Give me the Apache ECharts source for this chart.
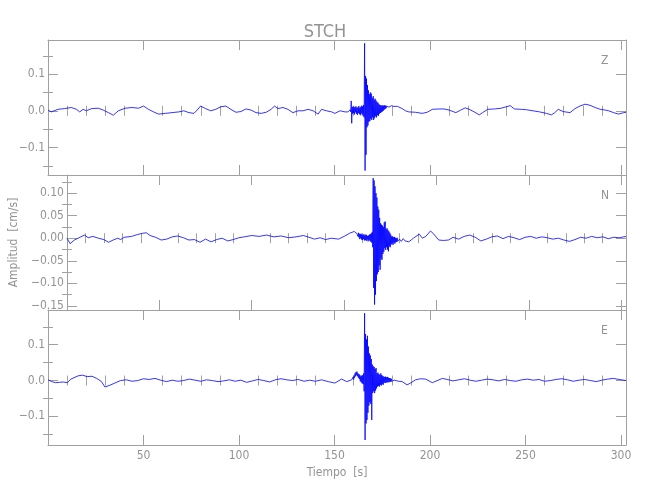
<!DOCTYPE html>
<html>
<head>
<meta charset="utf-8">
<script src="https://cdn.jsdelivr.net/npm/echarts@6/dist/echarts.min.js"></script>
<style>html,body{margin:0;padding:0;background:#fff}#c{width:650px;height:500px}</style>
</head>
<body>
<div id="c"></div>
<script>
// ---------------- DATA ----------------
var stationName = "STCH";
var componentNames = ["Z", "N", "E"];
var xMax = 302.6;
var xMajorTicks = [0, 50, 100, 150, 200, 250, 300];
var xTickLabels = [50, 100, 150, 200, 250, 300];
var xMinorTicks = [10,20,30,40,60,70,80,90,110,120,130,140,160,170,180,190,210,220,230,240,260,270,280,290];

// Z component: slow background (time [s], amplitude [cm/s])
var timeZ = [0,1.7,5.2,8.7,12.2,14.9,16.6,18.4,20.1,22.8,26.3,28.9,31.6,34.2,36.8,40.4,43.9,47.4,50.0,52.6,55.3,57.9,61.4,64.9,68.5,71.1,73.8,76.4,78.1,79.9,82.5,85.2,87.8,90.5,93.1,95.7,98.4,101.0,103.6,106.3,108.9,111.6,114.2,116.8,118.6,120.3,123.0,125.6,128.2,130.9,133.5,136.2,138.8,141.4,143.2,145.8,148.5,150.2,152.9,155.5,
  183.0,185.4,187.2,188.9,192.4,195.9,198.5,201.2,204.7,207.3,210.0,213.5,216.1,218.4,220.5,223.1,225.8,227.5,230.2,233.7,237.2,239.9,242.0,244.2,247.8,250.4,253.9,257.4,260.9,263.6,265.3,267.1,269.7,273.3,275.9,278.5,281.2,283.8,286.4,289.1,291.7,293.5,296.1,298.7,301.4,302.6];
var ampZ = [0.002,-0.003,0.004,0.006,0.009,0.004,-0.003,0.004,0.000,0.006,0.007,0.002,-0.005,-0.012,0.000,0.007,0.009,0.007,0.013,0.004,-0.003,-0.009,-0.007,-0.005,-0.003,0.000,-0.005,-0.007,0.002,0.013,0.006,0.000,0.004,0.011,0.013,0.004,-0.004,-0.002,0.005,0.002,-0.005,-0.007,-0.004,0.004,0.013,0.006,0.009,0.004,-0.005,0.000,0.000,0.004,0.000,-0.009,0.004,0.000,-0.003,-0.007,0.000,-0.003,
  0.012,0.006,0.000,-0.003,-0.004,-0.007,-0.004,0.004,0.005,0.005,0.002,-0.005,0.002,0.008,0.004,-0.003,-0.011,-0.005,0.004,0.005,0.007,0.011,0.014,0.005,0.004,0.003,0.000,-0.003,-0.007,-0.011,-0.005,0.004,-0.002,-0.005,0.006,0.013,0.018,0.015,0.009,0.004,0.002,0.000,-0.005,-0.009,-0.005,-0.004];
// Z component: main arrival, sampled every burstDt seconds from burstStartZ
var burstDt = 0.25;
var burstStartZ = 157.0;
var burstZ = [-0.003,0.001,-0.004,0.002,-0.002,0.003,-0.003,0.027,-0.034,0.010,-0.008,0.012,-0.006,0.009,-0.010,0.011,-0.004,0.012,-0.008,0.008,-0.011,0.010,-0.006,0.013,-0.009,0.008,-0.012,0.011,-0.007,0.014,-0.010,0.012,-0.014,0.016,-0.018,0.184,-0.163,0.095,-0.120,0.088,-0.045,0.070,-0.040,0.056,-0.030,0.045,-0.028,0.050,-0.022,0.047,-0.025,0.035,-0.018,0.040,-0.025,0.030,-0.020,0.033,-0.015,0.028,-0.018,0.024,-0.012,0.022,-0.014,0.018,-0.008,0.016,-0.006,0.015,-0.004,0.014,-0.002,0.015,0.000,0.014,0.003,0.015,0.005,0.014,0.007,0.013,0.008,0.014,0.009,0.013,0.010,0.014,0.010,0.013,0.011,0.014,0.011,0.014,0.012,0.013,0.012];

// N component
var timeN = [0,1.7,4,7,9.5,11.5,14,17,20,22.5,25,27.5,29,31,35,38,41,43,45,48,51,54,57,60,63,66,69,72,75,78,81,84,87,90,93,96,100,104,108,112,116,120,124,128,131,134,137,140,143,147,150,153,155.5,157,
  180,181,182,183,184,185,186.3,187.5,188.9,190.7,192.4,194.2,196.8,198.6,201.2,203.8,206.5,209,212,215,218,221,224,227,230,233,236,239,242,245,248,251,254,257,260,263,266,269,272,275,278,281,284,287,290,293,296,299,302.6];
var ampN = [0.000,-0.012,-0.004,0.002,0.007,0.001,0.004,0.000,-0.003,-0.009,-0.004,0.000,-0.003,0.002,0.004,0.008,0.011,0.012,0.006,0.002,-0.004,-0.002,0.003,0.005,0.001,-0.004,-0.003,-0.009,-0.002,-0.008,-0.003,0.000,-0.006,-0.003,0.001,0.003,0.006,0.004,0.007,0.003,0.005,0.001,0.003,0.006,0.002,-0.002,0.001,-0.003,0.000,-0.002,0.004,0.011,0.015,0.010,
  -0.002,-0.007,-0.001,-0.006,-0.002,-0.008,-0.004,0.000,0.004,0.009,0.000,0.004,0.016,0.009,-0.004,-0.005,-0.004,0.002,-0.002,0.004,0.007,0.002,-0.006,-0.002,0.003,0.005,-0.001,0.004,0.001,-0.003,0.002,0.004,0.000,0.003,0.001,-0.002,0.000,-0.004,-0.007,-0.003,0.002,0.000,0.004,0.001,0.003,-0.001,0.002,0.001,0.004];
var burstStartN = 157.25;
var burstN = [0.011,0.004,0.012,0.002,0.010,-0.002,0.009,0.000,0.010,-0.003,0.008,-0.004,0.007,-0.002,0.009,-0.005,0.006,-0.004,0.008,-0.006,0.007,-0.003,0.005,-0.007,0.006,-0.004,0.008,-0.006,0.009,-0.008,0.011,-0.010,0.014,-0.020,0.133,-0.110,0.128,-0.147,0.115,-0.125,0.100,-0.095,0.090,-0.080,0.070,-0.075,0.063,-0.060,0.045,-0.070,0.033,-0.045,0.030,-0.048,0.028,-0.035,0.025,-0.030,0.035,-0.022,0.037,-0.026,0.020,-0.020,0.022,-0.025,0.018,-0.029,0.015,-0.018,0.012,-0.020,0.008,-0.014,0.004,-0.012,0.004,-0.015,0.002,-0.010,0.003,-0.012,0.001,-0.009,0.000,-0.008,0.001,-0.007];

// E component
var timeE = [0,2,4,6,8,10,12,15.7,18,20.5,23,25.5,28,29.8,32,35,38,41,44,47,50,53,56,59,62,65,68,71,74,77,80,83,86,89,92,95,98,101,104,107,110,113,116,119,122,125,128,131,134,137,140,143.2,146.7,150.2,153.7,156.4,159.0,
  183.6,185.4,188,189.8,192.4,195.1,197.7,201.2,204.7,206.5,209,212,215,218,221,224,227,230,233,236,239,242,245,248,251,254,257,260,263,266,269,272,275,278,281,284,287,290,293,296,299,302.6];
var ampE = [0.002,-0.003,-0.006,-0.005,-0.004,-0.006,0.004,0.013,0.015,0.011,0.012,0.006,-0.003,-0.018,-0.014,-0.007,0.000,0.002,-0.002,0.000,0.005,0.003,0.006,0.001,-0.003,0.001,-0.002,0.000,0.004,0.001,-0.002,0.002,0.000,-0.003,-0.001,0.002,-0.002,0.001,-0.005,-0.001,0.003,0.000,-0.004,0.002,0.005,0.002,0.000,0.003,-0.002,0.001,-0.002,0.002,-0.003,-0.007,0.004,-0.003,0.002,
  -0.002,-0.003,-0.012,-0.007,0.002,0.005,0.004,-0.006,0.002,0.006,0.003,-0.001,0.002,0.005,0.001,-0.002,0.001,0.004,0.002,-0.001,0.003,0.000,-0.002,0.002,0.004,0.001,0.003,-0.002,0.000,0.003,0.005,0.002,-0.002,0.001,0.003,0.000,-0.003,0.001,0.004,0.006,0.003,0.000];
var burstStartE = 159.25;
var burstE = [0.006,-0.002,0.010,0.003,0.014,0.008,0.020,0.012,0.024,0.015,0.025,0.012,0.020,0.008,0.018,0.004,0.016,-0.002,0.012,-0.005,0.014,-0.008,0.015,-0.010,0.020,-0.030,0.188,-0.166,0.130,-0.120,0.115,-0.110,0.125,-0.090,0.095,-0.070,0.076,-0.060,0.070,-0.065,0.060,-0.110,0.045,-0.035,0.040,-0.030,0.038,-0.035,0.032,-0.028,0.035,-0.022,0.020,-0.017,0.022,-0.015,0.018,-0.017,0.016,-0.012,0.020,-0.014,0.015,-0.010,0.013,-0.012,0.011,-0.006,0.010,-0.007,0.011,-0.005,0.009,-0.006,0.010,-0.004,0.008,-0.005,0.007,-0.003,0.006,-0.004,0.005,-0.002,0.003,-0.003,0.002,-0.002,0.001,-0.002,0.000,-0.002];

// axis ranges and ticks per component
var yRangeZ = [-0.175, 0.193], yMajorZ = [-0.1, 0, 0.1], yMinorZ = [-0.15, -0.05, 0.05, 0.15];
var yRangeN = [-0.159, 0.140], yMajorN = [-0.15, -0.10, -0.05, 0, 0.05, 0.10], yMinorN = [-0.125, -0.075, -0.025, 0.025, 0.075, 0.125];
var yRangeE = [-0.180, 0.197], yMajorE = [-0.1, 0, 0.1], yMinorE = [-0.15, -0.05, 0.05, 0.15];

// ---------------- BUILD ----------------
function merge(times, amps, bStart, burst) {
  var pts = [];
  for (var i = 0; i < times.length; i++) pts.push([times[i], amps[i]]);
  for (var j = 0; j < burst.length; j++) pts.push([+(bStart + j * burstDt).toFixed(3), burst[j]]);
  pts.sort(function (a, b) { return a[0] - b[0]; });
  return pts;
}
var traces = [
  merge(timeZ, ampZ, burstStartZ, burstZ),
  merge(timeN, ampN, burstStartN, burstN),
  merge(timeE, ampE, burstStartE, burstE)
];
var yRanges = [yRangeZ, yRangeN, yRangeE];
var yMajors = [yMajorZ, yMajorN, yMajorE];
var yMinors = [yMinorZ, yMinorN, yMinorE];
var yDecimals = [1, 2, 1];

var FONT = "'Liberation Sans Narrow', 'DejaVu Sans Condensed', sans-serif";
var AX = '#a0a0a0', TX = '#939393';
var gridTops = [40, 175, 310], gridH = 135, gridLeft = 48, gridRight = 24;

var grids = [], xAxes = [], yAxes = [], series = [];
for (var g = 0; g < 3; g++) {
  grids.push({ left: gridLeft, right: gridRight, top: gridTops[g], height: gridH, containLabel: false });
  var baseX = {
    type: 'value', gridIndex: g, min: 0, max: xMax,
    splitLine: { show: false },
    axisLine: { show: true, onZero: false, lineStyle: { color: AX, width: 1 } }
  };
  xAxes.push(Object.assign({}, baseX, {
    position: 'bottom',
    axisTick: { show: true, inside: true, length: 10, customValues: xMajorTicks, lineStyle: { color: AX } },
    axisLabel: { show: g === 2, customValues: xTickLabels, color: TX, fontFamily: FONT, fontSize: 12, margin: 5 },
    name: g === 2 ? 'Tiempo  [s]' : '', nameLocation: 'middle', nameGap: 22,
    nameTextStyle: { color: TX, fontFamily: FONT, fontSize: 12 }
  }));
  xAxes.push(Object.assign({}, baseX, {
    position: 'bottom', axisLine: { show: false },
    axisTick: { show: true, inside: true, length: 5, customValues: xMinorTicks, lineStyle: { color: AX } },
    axisLabel: { show: false }
  }));
  xAxes.push(Object.assign({}, baseX, {
    position: 'top',
    axisTick: { show: true, inside: true, length: 10, customValues: xMajorTicks, lineStyle: { color: AX } },
    axisLabel: { show: false }
  }));
  xAxes.push(Object.assign({}, baseX, {
    position: 'top', axisLine: { show: false },
    axisTick: { show: true, inside: true, length: 5, customValues: xMinorTicks, lineStyle: { color: AX } },
    axisLabel: { show: false }
  }));

  var dec = yDecimals[g];
  var baseY = {
    type: 'value', gridIndex: g, min: yRanges[g][0], max: yRanges[g][1],
    splitLine: { show: false },
    axisLine: { show: true, onZero: false, lineStyle: { color: AX, width: 1 } }
  };
  yAxes.push(Object.assign({}, baseY, {
    position: 'left',
    axisTick: { show: true, inside: true, length: 10, customValues: yMajors[g], lineStyle: { color: AX } },
    axisLabel: {
      show: true, customValues: yMajors[g], color: TX, fontFamily: FONT, fontSize: 12, margin: 3,
      formatter: (function (d) { return function (v) { return v.toFixed(d).replace('-', '\u2212'); }; })(dec)
    },
    name: g === 1 ? 'Amplitud  [cm/s]' : '', nameLocation: 'middle', nameGap: 27, nameRotate: 90,
    nameTextStyle: { color: TX, fontFamily: FONT, fontSize: 12 }
  }));
  yAxes.push(Object.assign({}, baseY, {
    position: 'left', axisLine: { show: false },
    axisTick: { show: true, inside: true, length: 5, customValues: yMinors[g], lineStyle: { color: AX } },
    axisLabel: { show: false }
  }));
  yAxes.push(Object.assign({}, baseY, {
    position: 'right',
    axisTick: { show: true, inside: true, length: 10, customValues: yMajors[g], lineStyle: { color: AX } },
    axisLabel: { show: false }
  }));
  yAxes.push(Object.assign({}, baseY, {
    position: 'right', axisLine: { show: false },
    axisTick: { show: true, inside: true, length: 5, customValues: yMinors[g], lineStyle: { color: AX } },
    axisLabel: { show: false }
  }));

  series.push({
    type: 'line', name: componentNames[g], xAxisIndex: g * 4, yAxisIndex: g * 4,
    data: traces[g], showSymbol: false, symbol: 'none', sampling: false,
    lineStyle: { color: '#0000ff', width: 0.8 }, clip: true, z: 1
  });
}

var graphics = [];
for (var k = 0; k < 3; k++) {
  graphics.push({
    type: 'text', left: 601, top: gridTops[k] + 15,
    style: { text: componentNames[k], fill: TX, font: '12px ' + FONT }
  });
}

var chart = echarts.init(document.getElementById('c'), null, { renderer: 'canvas' });
chart.setOption({
  animation: false,
  backgroundColor: '#ffffff',
  title: {
    text: stationName, left: 'center', top: 18,
    textStyle: { color: TX, fontFamily: FONT, fontSize: 18, fontWeight: 'normal' }
  },
  grid: grids, xAxis: xAxes, yAxis: yAxes, series: series, graphic: graphics
});
</script>
</body>
</html>
